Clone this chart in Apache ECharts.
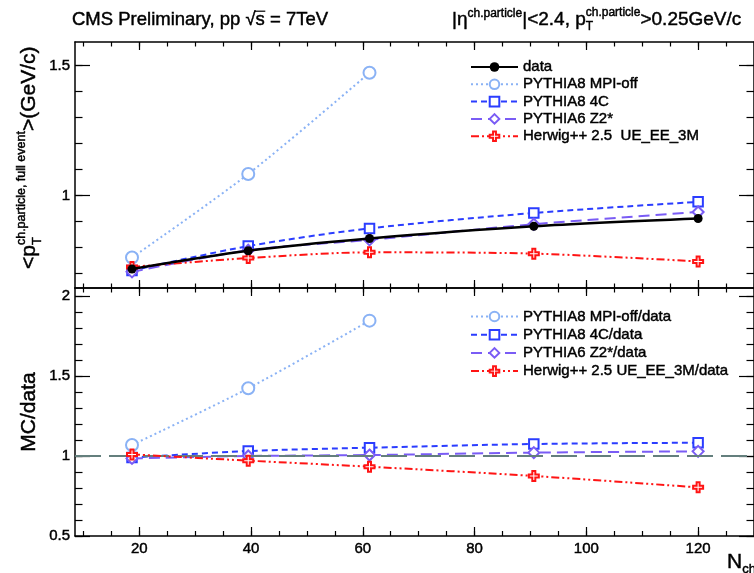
<!DOCTYPE html>
<html><head><meta charset="utf-8">
<script src="https://cdn.jsdelivr.net/npm/echarts@6/dist/echarts.min.js"></script>
<style>html,body{margin:0;padding:0;background:#fff}#c{width:754px;height:573px}</style>
</head><body><div id="c"></div>
<script>
// ---- data ----
const nch        = [18.7, 39.5, 61.2, 90.6, 120];
const nchMpiOff  = [18.7, 39.5, 61.2];
const meanPtData   = [0.718, 0.788, 0.835, 0.882, 0.912];
const meanPtMpiOff = [0.762, 1.083, 1.472];
const meanPt4C     = [0.712, 0.806, 0.874, 0.933, 0.976];
const meanPtZ2     = [0.707, 0.790, 0.830, 0.890, 0.937];
const meanPtHerwig = [0.726, 0.760, 0.782, 0.777, 0.747];
const ratioMpiOff  = [1.069, 1.423, 1.846];
const ratio4C      = [0.990, 1.031, 1.052, 1.075, 1.083];
const ratioZ2      = [0.985, 1.000, 1.006, 1.021, 1.029];
const ratioHerwig  = [1.010, 0.971, 0.933, 0.875, 0.804];
// ---- tick values ----
const xMajor = [20, 40, 60, 80, 100, 120];
const xMinor = [10, 15, 20, 25, 30, 35, 40, 45, 50, 55, 60, 65, 70, 75, 80, 85, 90, 95, 100, 105, 110, 115, 120, 125, 130];
const yTopMajor = [1, 1.5];
const yTopMinor = [0.7, 0.8, 0.9, 1, 1.1, 1.2, 1.3, 1.4, 1.5];
const yBotMajor = [0.5, 1, 1.5, 2];
const yBotMinor = [0.5, 0.6, 0.7, 0.8, 0.9, 1, 1.1, 1.2, 1.3, 1.4, 1.5, 1.6, 1.7, 1.8, 1.9, 2];
const topNames = ['data', 'PYTHIA8 MPI-off', 'PYTHIA8 4C', 'PYTHIA6 Z2*', 'Herwig++ 2.5  UE_EE_3M'];
const botNames = ['PYTHIA8 MPI-off/data', 'PYTHIA8 4C/data', 'PYTHIA6 Z2*/data', 'Herwig++ 2.5 UE_EE_3M/data'];

const FONT = '"Liberation Sans", Arial, Helvetica, sans-serif';
const XMIN = 8.5, XMAX = 130;
const C_MPI = '#8ab2f5', C_4C = '#2b3dff', C_Z2 = '#7a5cf5', C_HW = '#ff1414', C_REF = '#647f7d';
const crossPath = 'path://M3.5,0 H6.5 V3.5 H10 V6.5 H6.5 V10 H3.5 V6.5 H0 V3.5 H3.5 Z';
const HEAVY = {textBorderColor: '#000', textBorderWidth: 0.45};

function xAx(grid, pos, values, len, line, labels) {
  const a = {type: 'value', gridIndex: grid, position: pos, min: XMIN, max: XMAX,
    axisLine: {show: line, onZero: false, lineStyle: {color: '#000', width: 1.5}},
    axisTick: {show: true, inside: true, length: len, customValues: values, lineStyle: {color: '#000', width: 1.2}},
    axisLabel: Object.assign({show: labels, margin: 5, fontSize: 15, fontFamily: FONT, color: '#000'}, HEAVY),
    splitLine: {show: false}};
  if (labels) a.axisLabel.customValues = values;
  return a;
}
function yAx(grid, pos, min, max, values, len, line, labels) {
  const a = {type: 'value', gridIndex: grid, position: pos, min: min, max: max,
    axisLine: {show: line, onZero: false, lineStyle: {color: '#000', width: 1.5}},
    axisTick: {show: true, inside: true, length: len, customValues: values, lineStyle: {color: '#000', width: 1.2}},
    axisLabel: Object.assign({show: labels, margin: 5, fontSize: 15, fontFamily: FONT, color: '#000'}, HEAVY),
    splitLine: {show: false}};
  if (labels) a.axisLabel.customValues = values;
  return a;
}
const TOPMIN = 0.645, TOPMAX = 1.59, BOTMIN = 0.5, BOTMAX = 2.05;
const xAxis = [
  xAx(0, 'bottom', xMajor, 8, true, false), xAx(0, 'bottom', xMinor, 4.5, false, false),
  xAx(0, 'top', xMajor, 8, true, false), xAx(0, 'top', xMinor, 4.5, false, false),
  xAx(1, 'bottom', xMajor, 9, true, true), xAx(1, 'bottom', xMinor, 5, false, false),
  xAx(1, 'top', xMajor, 8, true, false), xAx(1, 'top', xMinor, 4.5, false, false)
];
const yAxis = [
  yAx(0, 'left', TOPMIN, TOPMAX, yTopMajor, 15, true, true), yAx(0, 'left', TOPMIN, TOPMAX, yTopMinor, 7.5, false, false),
  yAx(0, 'right', TOPMIN, TOPMAX, yTopMajor, 15, true, false), yAx(0, 'right', TOPMIN, TOPMAX, yTopMinor, 7.5, false, false),
  yAx(1, 'left', BOTMIN, BOTMAX, yBotMajor, 15, true, true), yAx(1, 'left', BOTMIN, BOTMAX, yBotMinor, 7.5, false, false),
  yAx(1, 'right', BOTMIN, BOTMAX, yBotMajor, 15, true, false), yAx(1, 'right', BOTMIN, BOTMAX, yBotMinor, 7.5, false, false)
];

function ser(name, xs, ys, top, color, dash, width, symbol, size, filled, z) {
  return {name: name, type: 'line', xAxisIndex: top ? 0 : 4, yAxisIndex: top ? 0 : 4,
    data: xs.map((x, i) => [x, ys[i]]), smooth: 0.3, z: z,
    symbol: symbol, symbolSize: size, showSymbol: true,
    lineStyle: {color: color, width: width, type: dash},
    itemStyle: {color: filled ? color : '#fff', borderColor: color, borderWidth: filled ? 0 : 2},
    emphasis: {disabled: true}};
}
const DOT = [2, 3], DASH = [6, 4], LDASH = [11, 6], DDOT = [8, 3, 2, 3, 2, 3];
const series = [
  ser(topNames[1], nchMpiOff, meanPtMpiOff, true, C_MPI, DOT, 2, 'circle', 12, false, 3),
  ser(topNames[2], nch, meanPt4C, true, C_4C, DASH, 2, 'rect', 9.5, false, 4),
  ser(topNames[3], nch, meanPtZ2, true, C_Z2, LDASH, 2, 'diamond', 11, false, 4),
  ser(topNames[4], nch, meanPtHerwig, true, C_HW, DDOT, 2, crossPath, 10, false, 4),
  ser(topNames[0], nch, meanPtData, true, '#000', 'solid', 2.6, 'circle', 9, true, 6),
  {name: 'ref', type: 'line', xAxisIndex: 4, yAxisIndex: 4, data: [], z: 2, silent: true,
    markLine: {silent: true, symbol: 'none', label: {show: false}, animation: false,
      lineStyle: {color: C_REF, width: 2, type: [26, 8]}, data: [{yAxis: 1}]}},
  ser(botNames[0], nchMpiOff, ratioMpiOff, false, C_MPI, DOT, 2, 'circle', 12, false, 3),
  ser(botNames[1], nch, ratio4C, false, C_4C, DASH, 2, 'rect', 9.5, false, 4),
  ser(botNames[2], nch, ratioZ2, false, C_Z2, LDASH, 2, 'diamond', 11, false, 4),
  ser(botNames[3], nch, ratioHerwig, false, C_HW, DDOT, 2, crossPath, 10, false, 5)
];

// ---- text helpers ----
const ctx = document.createElement('canvas').getContext('2d');
function tw(t, s) { ctx.font = s + 'px ' + FONT; return ctx.measureText(t).width; }
function richLine(x0, y0, rot, pieces) {
  const children = [];
  let cur = 0, prevStart = 0;
  pieces.forEach(p => {
    const start = p.stack ? prevStart : cur;
    const w = tw(p.t, p.s);
    children.push({type: 'text', x: start, y: (p.dy || 0) - 0.31 * p.s,
      style: Object.assign({text: p.t, fontSize: p.s, fontFamily: FONT, fill: '#000', align: 'left', verticalAlign: 'middle',
        stroke: '#000', lineWidth: 0.45})});
    if (p.over) {
      children.push({type: 'line', shape: {x1: start - 1, y1: -0.8 * p.s, x2: start + w + 0.5, y2: -0.8 * p.s},
        style: {stroke: '#000', lineWidth: 1.2}});
    }
    cur = Math.max(cur, start + w);
    prevStart = start;
  });
  return {type: 'group', x: x0, y: y0, rotation: rot, children: children};
}
const graphic = [
  richLine(72, 26, 0, [{t: 'CMS Preliminary, pp ', s: 18.5}, {t: '√', s: 18.5}, {t: 's', s: 18.5, over: true}, {t: ' = 7TeV', s: 18.5}]),
  richLine(452, 26, 0, [{t: '|η', s: 19}, {t: 'ch.particle', s: 12, dy: -9}, {t: '|<2.4, p', s: 19},
    {t: 'T', s: 12, dy: 4}, {t: 'ch.particle', s: 12, dy: -10, stack: true}, {t: '>0.25GeV/c', s: 19}]),
  richLine(36, 269, Math.PI / 2, [{t: '<p', s: 21}, {t: 'T', s: 13, dy: 5}, {t: 'ch.particle, full event', s: 12.5, dy: -11, stack: true},
    {t: '>(GeV/c)', s: 21}]),
  {type: 'text', x: 36 - 0.31 * 21, y: 412, rotation: Math.PI / 2,
    style: {text: 'MC/data', fontSize: 21, fontFamily: FONT, fill: '#000', align: 'center', verticalAlign: 'middle', stroke: '#000', lineWidth: 0.45}},
  richLine(727, 569, 0, [{t: 'N', s: 21}, {t: 'ch', s: 13, dy: 4}])
];

const legendBase = {orient: 'vertical', left: 465, itemWidth: 47, itemHeight: 12, selectedMode: false,
  textStyle: Object.assign({fontSize: 15, fontFamily: FONT, color: '#000', lineHeight: 16, padding: 0}, HEAVY)};
const option = {
  animation: false,
  backgroundColor: '#fff',
  grid: [
    {left: 75, top: 42, width: 682, height: 246, show: false},
    {left: 75, top: 288, width: 682, height: 248, show: false}
  ],
  xAxis: xAxis, yAxis: yAxis,
  legend: [
    Object.assign({}, legendBase, {data: topNames, top: 54, itemGap: 1.3}),
    Object.assign({}, legendBase, {data: botNames, top: 303.5, itemGap: 2.2})
  ],
  graphic: graphic,
  series: series
};
const chart = echarts.init(document.getElementById('c'), null, {renderer: 'canvas'});
chart.setOption(option);
</script>
</body></html>
